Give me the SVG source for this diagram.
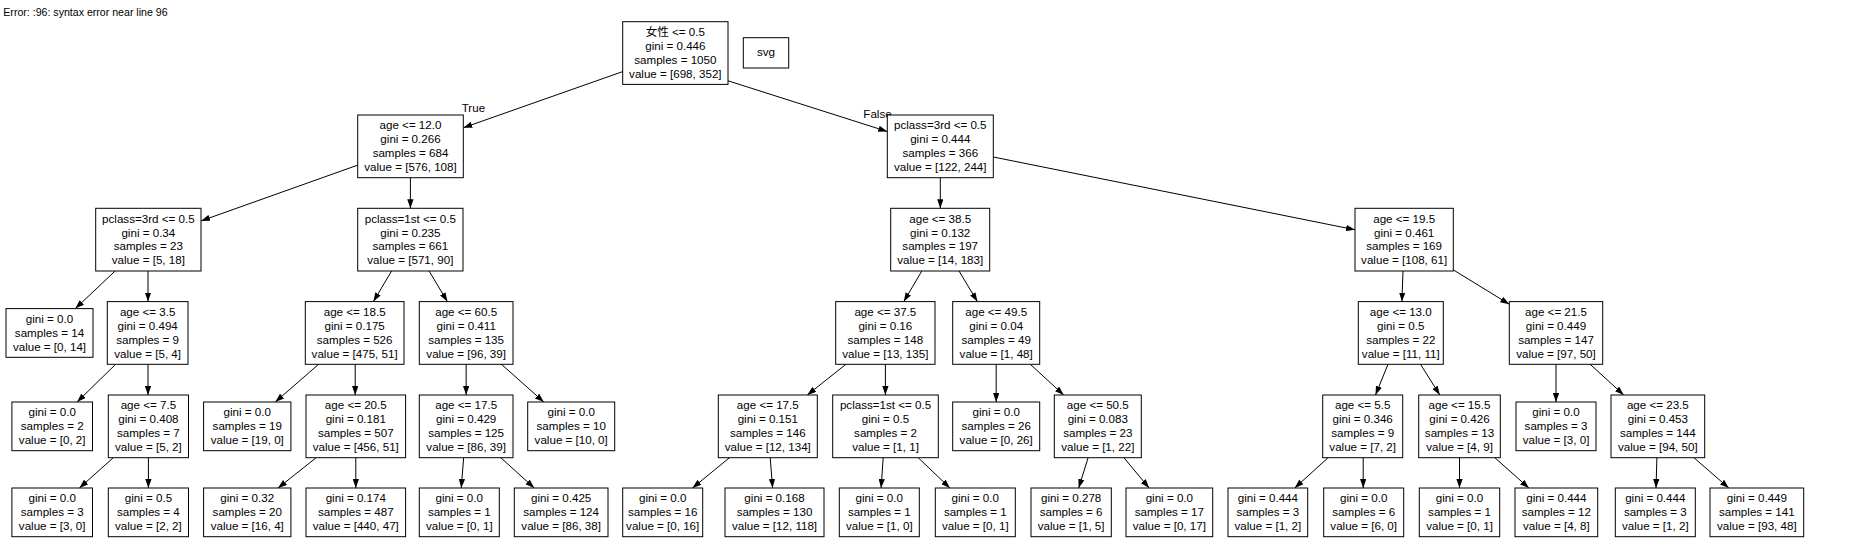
<svg xmlns="http://www.w3.org/2000/svg" width="1849" height="560" viewBox="0 0 1849 560">
<defs>
<style>
.box{fill:#fff;stroke:#000;stroke-width:1}
.t{font-family:"Liberation Sans","Noto Sans CJK SC",Arial,sans-serif;font-size:11.6px;text-anchor:middle;fill:#000}
.lbl{font-family:"Liberation Sans",Arial,sans-serif;font-size:11.6px;fill:#000}
.e{stroke:#000;stroke-width:1;fill:none;marker-end:url(#arr)}
</style>
<marker id="arr" viewBox="0 0 10 7" refX="10" refY="3.5" markerWidth="9" markerHeight="6.3" markerUnits="userSpaceOnUse" orient="auto"><path d="M0,0L10,3.5L0,7z" fill="#000"/></marker>
</defs>
<rect width="1849" height="560" fill="#fff"/>
<text x="3.3" y="15.5" style="font-family:'Liberation Sans',Arial,sans-serif;font-size:10.6px;fill:#000">Error: :96: syntax error near line 96</text>

<g id="connectors">
<line class="e" x1="622.7" y1="71.6" x2="463.3" y2="127.75"/>
<line class="e" x1="728" y1="80.8" x2="887.3" y2="131.5"/>
<line class="e" x1="357.7" y1="165.14" x2="201" y2="220.92"/>
<line class="e" x1="410.4" y1="177.7" x2="410.4" y2="208.3"/>
<line class="e" x1="115.14" y1="271" x2="75.3" y2="308.6"/>
<line class="e" x1="148" y1="271" x2="148" y2="301.6"/>
<line class="e" x1="115.6" y1="364.3" x2="77.1" y2="402"/>
<line class="e" x1="148" y1="364.3" x2="148" y2="395"/>
<line class="e" x1="113.3" y1="457.7" x2="79.4" y2="488"/>
<line class="e" x1="148.4" y1="457.7" x2="148.4" y2="488"/>
<line class="e" x1="391.6" y1="271" x2="373.4" y2="301.6"/>
<line class="e" x1="429.1" y1="271" x2="447.4" y2="301.6"/>
<line class="e" x1="318.6" y1="364.3" x2="275.25" y2="402"/>
<line class="e" x1="355.2" y1="364.3" x2="355.2" y2="395"/>
<line class="e" x1="316.2" y1="457.7" x2="278" y2="488"/>
<line class="e" x1="355.8" y1="457.7" x2="355.8" y2="488"/>
<line class="e" x1="466.15" y1="364.3" x2="466.15" y2="395"/>
<line class="e" x1="501.4" y1="364.3" x2="543.8" y2="402"/>
<line class="e" x1="463.65" y1="457.7" x2="461.24" y2="488"/>
<line class="e" x1="500.8" y1="457.7" x2="534.25" y2="488"/>
<line class="e" x1="940.3" y1="177.7" x2="940.3" y2="208.3"/>
<line class="e" x1="993.3" y1="157" x2="1355" y2="229.76"/>
<line class="e" x1="921.8" y1="271" x2="903.8" y2="301.6"/>
<line class="e" x1="959" y1="271" x2="977.4" y2="301.6"/>
<line class="e" x1="845.9" y1="364.3" x2="807.3" y2="395"/>
<line class="e" x1="885.4" y1="364.3" x2="885.4" y2="395"/>
<line class="e" x1="729.5" y1="457.7" x2="692.45" y2="488"/>
<line class="e" x1="770.2" y1="457.7" x2="772.6" y2="488"/>
<line class="e" x1="883.2" y1="457.7" x2="881.1" y2="488"/>
<line class="e" x1="918.2" y1="457.7" x2="949.9" y2="488"/>
<line class="e" x1="996.2" y1="364.3" x2="996.2" y2="402"/>
<line class="e" x1="1030.3" y1="364.3" x2="1063.7" y2="395"/>
<line class="e" x1="1088.1" y1="457.7" x2="1078.7" y2="488"/>
<line class="e" x1="1123.9" y1="457.7" x2="1149.1" y2="488"/>
<line class="e" x1="1403" y1="271" x2="1401.9" y2="301.6"/>
<line class="e" x1="1453.3" y1="269.85" x2="1509.3" y2="304.26"/>
<line class="e" x1="1388" y1="364.3" x2="1375.5" y2="395"/>
<line class="e" x1="1420.5" y1="364.3" x2="1439.8" y2="395"/>
<line class="e" x1="1328.1" y1="457.7" x2="1294.7" y2="488"/>
<line class="e" x1="1363.2" y1="457.7" x2="1363.2" y2="488"/>
<line class="e" x1="1459.5" y1="457.7" x2="1459.5" y2="488"/>
<line class="e" x1="1494.8" y1="457.7" x2="1528.9" y2="488"/>
<line class="e" x1="1556" y1="364.3" x2="1556" y2="402"/>
<line class="e" x1="1590.2" y1="364.3" x2="1623.7" y2="395"/>
<line class="e" x1="1656.9" y1="457.7" x2="1656" y2="488"/>
<line class="e" x1="1693.9" y1="457.7" x2="1728.8" y2="488"/>
<text class="lbl" x="461.7" y="111.5">True</text>
<text class="lbl" x="863.3" y="117.5">False</text>
</g>

<g id="n0"><rect class="box" x="622.7" y="21.7" width="105.3" height="62.7"/><text class="t"><tspan x="675.35" y="36">女性 &lt;= 0.5</tspan><tspan x="675.35" y="49.9">gini = 0.446</tspan><tspan x="675.35" y="63.8">samples = 1050</tspan><tspan x="675.35" y="77.7">value = [698, 352]</tspan></text></g>
<g id="svgnode"><rect class="box" x="743.3" y="37.7" width="45.4" height="30.3"/><text class="t" x="766" y="55.5">svg</text></g>

<g id="n1"><rect class="box" x="357.7" y="115" width="105.6" height="62.7"/><text class="t"><tspan x="410.5" y="129.3">age &lt;= 12.0</tspan><tspan x="410.5" y="143.2">gini = 0.266</tspan><tspan x="410.5" y="157.1">samples = 684</tspan><tspan x="410.5" y="171">value = [576, 108]</tspan></text></g>
<g id="n2"><rect class="box" x="887.3" y="115" width="106" height="62.7"/><text class="t"><tspan x="940.3" y="129.3">pclass=3rd &lt;= 0.5</tspan><tspan x="940.3" y="143.2">gini = 0.444</tspan><tspan x="940.3" y="157.1">samples = 366</tspan><tspan x="940.3" y="171">value = [122, 244]</tspan></text></g>

<g id="n3"><rect class="box" x="95.7" y="208.3" width="105.3" height="62.7"/><text class="t"><tspan x="148.35" y="222.6">pclass=3rd &lt;= 0.5</tspan><tspan x="148.35" y="236.5">gini = 0.34</tspan><tspan x="148.35" y="250.4">samples = 23</tspan><tspan x="148.35" y="264.3">value = [5, 18]</tspan></text></g>
<g id="n4"><rect class="box" x="357.7" y="208.3" width="105.3" height="62.7"/><text class="t"><tspan x="410.35" y="222.6">pclass=1st &lt;= 0.5</tspan><tspan x="410.35" y="236.5">gini = 0.235</tspan><tspan x="410.35" y="250.4">samples = 661</tspan><tspan x="410.35" y="264.3">value = [571, 90]</tspan></text></g>
<g id="n5"><rect class="box" x="890.7" y="208.3" width="99" height="62.7"/><text class="t"><tspan x="940.2" y="222.6">age &lt;= 38.5</tspan><tspan x="940.2" y="236.5">gini = 0.132</tspan><tspan x="940.2" y="250.4">samples = 197</tspan><tspan x="940.2" y="264.3">value = [14, 183]</tspan></text></g>
<g id="n6"><rect class="box" x="1355" y="208.3" width="98.3" height="62.7"/><text class="t"><tspan x="1404.15" y="222.6">age &lt;= 19.5</tspan><tspan x="1404.15" y="236.5">gini = 0.461</tspan><tspan x="1404.15" y="250.4">samples = 169</tspan><tspan x="1404.15" y="264.3">value = [108, 61]</tspan></text></g>

<g id="n7"><rect class="box" x="6" y="308.6" width="87" height="48.7"/><text class="t"><tspan x="49.5" y="322.85">gini = 0.0</tspan><tspan x="49.5" y="336.75">samples = 14</tspan><tspan x="49.5" y="350.65">value = [0, 14]</tspan></text></g>
<g id="n8"><rect class="box" x="107.3" y="301.6" width="80.7" height="62.7"/><text class="t"><tspan x="147.65" y="315.9">age &lt;= 3.5</tspan><tspan x="147.65" y="329.8">gini = 0.494</tspan><tspan x="147.65" y="343.7">samples = 9</tspan><tspan x="147.65" y="357.6">value = [5, 4]</tspan></text></g>
<g id="n9"><rect class="box" x="305.3" y="301.6" width="98.7" height="62.7"/><text class="t"><tspan x="354.65" y="315.9">age &lt;= 18.5</tspan><tspan x="354.65" y="329.8">gini = 0.175</tspan><tspan x="354.65" y="343.7">samples = 526</tspan><tspan x="354.65" y="357.6">value = [475, 51]</tspan></text></g>
<g id="n10"><rect class="box" x="419.3" y="301.6" width="93.7" height="62.7"/><text class="t"><tspan x="466.15" y="315.9">age &lt;= 60.5</tspan><tspan x="466.15" y="329.8">gini = 0.411</tspan><tspan x="466.15" y="343.7">samples = 135</tspan><tspan x="466.15" y="357.6">value = [96, 39]</tspan></text></g>
<g id="n11"><rect class="box" x="835.7" y="301.6" width="99.3" height="62.7"/><text class="t"><tspan x="885.35" y="315.9">age &lt;= 37.5</tspan><tspan x="885.35" y="329.8">gini = 0.16</tspan><tspan x="885.35" y="343.7">samples = 148</tspan><tspan x="885.35" y="357.6">value = [13, 135]</tspan></text></g>
<g id="n12"><rect class="box" x="952.7" y="301.6" width="87" height="62.7"/><text class="t"><tspan x="996.2" y="315.9">age &lt;= 49.5</tspan><tspan x="996.2" y="329.8">gini = 0.04</tspan><tspan x="996.2" y="343.7">samples = 49</tspan><tspan x="996.2" y="357.6">value = [1, 48]</tspan></text></g>
<g id="n13"><rect class="box" x="1358.3" y="301.6" width="85" height="62.7"/><text class="t"><tspan x="1400.8" y="315.9">age &lt;= 13.0</tspan><tspan x="1400.8" y="329.8">gini = 0.5</tspan><tspan x="1400.8" y="343.7">samples = 22</tspan><tspan x="1400.8" y="357.6">value = [11, 11]</tspan></text></g>
<g id="n14"><rect class="box" x="1509.3" y="301.6" width="93.4" height="62.7"/><text class="t"><tspan x="1556" y="315.9">age &lt;= 21.5</tspan><tspan x="1556" y="329.8">gini = 0.449</tspan><tspan x="1556" y="343.7">samples = 147</tspan><tspan x="1556" y="357.6">value = [97, 50]</tspan></text></g>

<g id="n15"><rect class="box" x="11.9" y="402" width="80.6" height="48.7"/><text class="t"><tspan x="52.2" y="416.25">gini = 0.0</tspan><tspan x="52.2" y="430.15">samples = 2</tspan><tspan x="52.2" y="444.05">value = [0, 2]</tspan></text></g>
<g id="n16"><rect class="box" x="108.3" y="395" width="80.2" height="62.7"/><text class="t"><tspan x="148.4" y="409.3">age &lt;= 7.5</tspan><tspan x="148.4" y="423.2">gini = 0.408</tspan><tspan x="148.4" y="437.1">samples = 7</tspan><tspan x="148.4" y="451">value = [5, 2]</tspan></text></g>
<g id="n17"><rect class="box" x="203.6" y="402" width="87.3" height="48.7"/><text class="t"><tspan x="247.25" y="416.25">gini = 0.0</tspan><tspan x="247.25" y="430.15">samples = 19</tspan><tspan x="247.25" y="444.05">value = [19, 0]</tspan></text></g>
<g id="n18"><rect class="box" x="306" y="395" width="99.6" height="62.7"/><text class="t"><tspan x="355.8" y="409.3">age &lt;= 20.5</tspan><tspan x="355.8" y="423.2">gini = 0.181</tspan><tspan x="355.8" y="437.1">samples = 507</tspan><tspan x="355.8" y="451">value = [456, 51]</tspan></text></g>
<g id="n19"><rect class="box" x="419.3" y="395" width="93.7" height="62.7"/><text class="t"><tspan x="466.15" y="409.3">age &lt;= 17.5</tspan><tspan x="466.15" y="423.2">gini = 0.429</tspan><tspan x="466.15" y="437.1">samples = 125</tspan><tspan x="466.15" y="451">value = [86, 39]</tspan></text></g>
<g id="n20"><rect class="box" x="527.7" y="402" width="87" height="48.7"/><text class="t"><tspan x="571.2" y="416.25">gini = 0.0</tspan><tspan x="571.2" y="430.15">samples = 10</tspan><tspan x="571.2" y="444.05">value = [10, 0]</tspan></text></g>
<g id="n21"><rect class="box" x="718.3" y="395" width="99" height="62.7"/><text class="t"><tspan x="767.8" y="409.3">age &lt;= 17.5</tspan><tspan x="767.8" y="423.2">gini = 0.151</tspan><tspan x="767.8" y="437.1">samples = 146</tspan><tspan x="767.8" y="451">value = [12, 134]</tspan></text></g>
<g id="n22"><rect class="box" x="832.7" y="395" width="105.6" height="62.7"/><text class="t"><tspan x="885.5" y="409.3">pclass=1st &lt;= 0.5</tspan><tspan x="885.5" y="423.2">gini = 0.5</tspan><tspan x="885.5" y="437.1">samples = 2</tspan><tspan x="885.5" y="451">value = [1, 1]</tspan></text></g>
<g id="n23"><rect class="box" x="952.7" y="402" width="87" height="48.7"/><text class="t"><tspan x="996.2" y="416.25">gini = 0.0</tspan><tspan x="996.2" y="430.15">samples = 26</tspan><tspan x="996.2" y="444.05">value = [0, 26]</tspan></text></g>
<g id="n24"><rect class="box" x="1054.3" y="395" width="87" height="62.7"/><text class="t"><tspan x="1097.8" y="409.3">age &lt;= 50.5</tspan><tspan x="1097.8" y="423.2">gini = 0.083</tspan><tspan x="1097.8" y="437.1">samples = 23</tspan><tspan x="1097.8" y="451">value = [1, 22]</tspan></text></g>
<g id="n25"><rect class="box" x="1322.7" y="395" width="80" height="62.7"/><text class="t"><tspan x="1362.7" y="409.3">age &lt;= 5.5</tspan><tspan x="1362.7" y="423.2">gini = 0.346</tspan><tspan x="1362.7" y="437.1">samples = 9</tspan><tspan x="1362.7" y="451">value = [7, 2]</tspan></text></g>
<g id="n26"><rect class="box" x="1418.7" y="395" width="81.6" height="62.7"/><text class="t"><tspan x="1459.5" y="409.3">age &lt;= 15.5</tspan><tspan x="1459.5" y="423.2">gini = 0.426</tspan><tspan x="1459.5" y="437.1">samples = 13</tspan><tspan x="1459.5" y="451">value = [4, 9]</tspan></text></g>
<g id="n27"><rect class="box" x="1516" y="402" width="80" height="48.7"/><text class="t"><tspan x="1556" y="416.25">gini = 0.0</tspan><tspan x="1556" y="430.15">samples = 3</tspan><tspan x="1556" y="444.05">value = [3, 0]</tspan></text></g>
<g id="n28"><rect class="box" x="1611" y="395" width="93.7" height="62.7"/><text class="t"><tspan x="1657.85" y="409.3">age &lt;= 23.5</tspan><tspan x="1657.85" y="423.2">gini = 0.453</tspan><tspan x="1657.85" y="437.1">samples = 144</tspan><tspan x="1657.85" y="451">value = [94, 50]</tspan></text></g>

<g id="n29"><rect class="box" x="11.9" y="488" width="80.6" height="48.7"/><text class="t"><tspan x="52.2" y="502.25">gini = 0.0</tspan><tspan x="52.2" y="516.15">samples = 3</tspan><tspan x="52.2" y="530.05">value = [3, 0]</tspan></text></g>
<g id="n30"><rect class="box" x="108.3" y="488" width="80.2" height="48.7"/><text class="t"><tspan x="148.4" y="502.25">gini = 0.5</tspan><tspan x="148.4" y="516.15">samples = 4</tspan><tspan x="148.4" y="530.05">value = [2, 2]</tspan></text></g>
<g id="n31"><rect class="box" x="203.6" y="488" width="87.3" height="48.7"/><text class="t"><tspan x="247.25" y="502.25">gini = 0.32</tspan><tspan x="247.25" y="516.15">samples = 20</tspan><tspan x="247.25" y="530.05">value = [16, 4]</tspan></text></g>
<g id="n32"><rect class="box" x="306" y="488" width="99.6" height="48.7"/><text class="t"><tspan x="355.8" y="502.25">gini = 0.174</tspan><tspan x="355.8" y="516.15">samples = 487</tspan><tspan x="355.8" y="530.05">value = [440, 47]</tspan></text></g>
<g id="n33"><rect class="box" x="419.3" y="488" width="80" height="48.7"/><text class="t"><tspan x="459.3" y="502.25">gini = 0.0</tspan><tspan x="459.3" y="516.15">samples = 1</tspan><tspan x="459.3" y="530.05">value = [0, 1]</tspan></text></g>
<g id="n34"><rect class="box" x="514.3" y="488" width="93.7" height="48.7"/><text class="t"><tspan x="561.15" y="502.25">gini = 0.425</tspan><tspan x="561.15" y="516.15">samples = 124</tspan><tspan x="561.15" y="530.05">value = [86, 38]</tspan></text></g>
<g id="n35"><rect class="box" x="622.7" y="488" width="80" height="48.7"/><text class="t"><tspan x="662.7" y="502.25">gini = 0.0</tspan><tspan x="662.7" y="516.15">samples = 16</tspan><tspan x="662.7" y="530.05">value = [0, 16]</tspan></text></g>
<g id="n36"><rect class="box" x="725" y="488" width="99" height="48.7"/><text class="t"><tspan x="774.5" y="502.25">gini = 0.168</tspan><tspan x="774.5" y="516.15">samples = 130</tspan><tspan x="774.5" y="530.05">value = [12, 118]</tspan></text></g>
<g id="n37"><rect class="box" x="839.3" y="488" width="80" height="48.7"/><text class="t"><tspan x="879.3" y="502.25">gini = 0.0</tspan><tspan x="879.3" y="516.15">samples = 1</tspan><tspan x="879.3" y="530.05">value = [1, 0]</tspan></text></g>
<g id="n38"><rect class="box" x="935.3" y="488" width="80" height="48.7"/><text class="t"><tspan x="975.3" y="502.25">gini = 0.0</tspan><tspan x="975.3" y="516.15">samples = 1</tspan><tspan x="975.3" y="530.05">value = [0, 1]</tspan></text></g>
<g id="n39"><rect class="box" x="1031" y="488" width="80.3" height="48.7"/><text class="t"><tspan x="1071.15" y="502.25">gini = 0.278</tspan><tspan x="1071.15" y="516.15">samples = 6</tspan><tspan x="1071.15" y="530.05">value = [1, 5]</tspan></text></g>
<g id="n40"><rect class="box" x="1126" y="488" width="86.7" height="48.7"/><text class="t"><tspan x="1169.35" y="502.25">gini = 0.0</tspan><tspan x="1169.35" y="516.15">samples = 17</tspan><tspan x="1169.35" y="530.05">value = [0, 17]</tspan></text></g>
<g id="n41"><rect class="box" x="1228" y="488" width="79.7" height="48.7"/><text class="t"><tspan x="1267.85" y="502.25">gini = 0.444</tspan><tspan x="1267.85" y="516.15">samples = 3</tspan><tspan x="1267.85" y="530.05">value = [1, 2]</tspan></text></g>
<g id="n42"><rect class="box" x="1323.7" y="488" width="80" height="48.7"/><text class="t"><tspan x="1363.7" y="502.25">gini = 0.0</tspan><tspan x="1363.7" y="516.15">samples = 6</tspan><tspan x="1363.7" y="530.05">value = [6, 0]</tspan></text></g>
<g id="n43"><rect class="box" x="1419.3" y="488" width="80.4" height="48.7"/><text class="t"><tspan x="1459.5" y="502.25">gini = 0.0</tspan><tspan x="1459.5" y="516.15">samples = 1</tspan><tspan x="1459.5" y="530.05">value = [0, 1]</tspan></text></g>
<g id="n44"><rect class="box" x="1515" y="488" width="82.7" height="48.7"/><text class="t"><tspan x="1556.35" y="502.25">gini = 0.444</tspan><tspan x="1556.35" y="516.15">samples = 12</tspan><tspan x="1556.35" y="530.05">value = [4, 8]</tspan></text></g>
<g id="n45"><rect class="box" x="1615.3" y="488" width="80" height="48.7"/><text class="t"><tspan x="1655.3" y="502.25">gini = 0.444</tspan><tspan x="1655.3" y="516.15">samples = 3</tspan><tspan x="1655.3" y="530.05">value = [1, 2]</tspan></text></g>
<g id="n46"><rect class="box" x="1710" y="488" width="93.7" height="48.7"/><text class="t"><tspan x="1756.85" y="502.25">gini = 0.449</tspan><tspan x="1756.85" y="516.15">samples = 141</tspan><tspan x="1756.85" y="530.05">value = [93, 48]</tspan></text></g>
</svg>
